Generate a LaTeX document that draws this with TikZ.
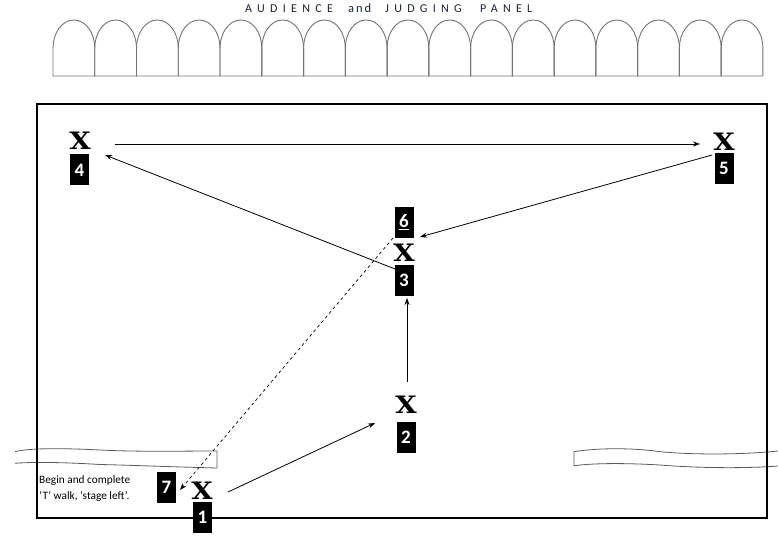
\documentclass[tikz,border=0pt]{standalone}
\usepackage{fontspec}
\setmainfont{Carlito}
\newfontfamily\xfont{DejaVu Serif}
\usetikzlibrary{arrows.meta}
\definecolor{titlec}{RGB}{25,32,65}
\definecolor{archc}{RGB}{115,115,115}
\definecolor{stripc}{RGB}{90,90,90}
\begin{document}
\begin{tikzpicture}[x=1pt,y=-1pt,
  xmark/.style={font=\xfont\bfseries\fontsize{24}{24}\selectfont, inner sep=0pt, xscale=1.15},
  numbox/.style={fill=black, text=white, font=\bfseries\fontsize{19}{19}\selectfont,
    minimum width=19pt, minimum height=31pt, inner sep=0pt},
  arr/.style={-{Stealth[length=7pt,width=5pt]}, line width=0.8pt},
  dasharr/.style={arr, dashed, line width=0.7pt},
  titleword/.style={anchor=west, inner sep=0pt, text=titlec,
    font=\fontsize{12}{12}\selectfont\addfontfeature{LetterSpace=44}},
  arch/.style={draw=archc, line width=0.9pt},
  strip/.style={draw=stripc, line width=0.8pt}]
\useasboundingbox (0,0) rectangle (778,537);

% title
\node[titleword] (t1) at (245,9) {AUDIENCE};
\node[titleword, font=\fontsize{12.5}{12}\selectfont\addfontfeature{LetterSpace=15}] (t2) at (348,8.5) {and};
\node[titleword] (t3) at (385,9) {JUDGING};
\node[titleword] (t4) at (480,9) {PANEL};

% arches
\foreach \i in {0,...,16}{
  \pgfmathsetmacro\xa{53+41.76*\i}
  \pgfmathsetmacro\xb{53+41.76*(\i+1)}
  \pgfmathsetmacro\xm{53+41.76*(\i+0.5)}
  \draw[arch] (\xa,76) -- (\xa,48) .. controls (\xa,33) and (\xm-12,20) .. (\xm,20)
     .. controls (\xm+12,20) and (\xb,33) .. (\xb,48) -- (\xb,76) -- cycle;
}

% strips
\draw[strip] (15,451.7) .. controls (30,448) and (60,448) .. (100,450)
   .. controls (140,452) and (180,451) .. (217,451) -- (217,468)
   .. controls (160,466.5) and (125,465) .. (100,464.5)
   .. controls (60,462) and (30,462) .. (15,463.3);
\draw[strip] (778,451) .. controls (750,454) and (700,455.5) .. (660,451.7)
   .. controls (635,448) and (600,447.5) .. (574,451.7) -- (574,465.7)
   .. controls (595,463) and (625,463) .. (660,465)
   .. controls (690,467.5) and (740,469) .. (778,466);

% stage
\draw[line width=2pt] (37,104) rectangle (767,518);

% marks
\node[xmark] (x4) at (80,141) {X};
\node[numbox] (b4) at (79.5,170) {4};
\node[xmark] (x5) at (724,142) {X};
\node[numbox] (b5) at (724,168.5) {5};
\node[numbox] (b6) at (404,222.5) {\underline{6}};
\node[xmark] (x3) at (404,253) {X};
\node[numbox] (b3) at (404,280) {3};
\node[xmark] (x2) at (406,405) {X};
\node[numbox] (b2) at (406,437.5) {2};
\node[xmark] (x1) at (202,491) {X};
\node[numbox] (b1) at (202.5,517.5) {1};
\node[numbox] (b7) at (166.5,487) {7};

% note
\node[anchor=west, align=left, inner sep=0pt, font=\fontsize{11.3}{16}\selectfont]
  (note) at (39,489) {Begin and complete\\‘T’ walk, ‘stage left’.};

% walk arrows
\draw[arr] ([shift={(26,1)}]x1.center) -- ([shift={(-31,18)}]x2.center);
\draw[arr] ([shift={(1,-23)}]x2.center) -- ([shift={(3,18)}]b3.center);
\draw[arr] ([shift={(-9,-11)}]b3.center) -- ([shift={(25,14)}]x4.center);
\draw[arr] ([shift={(35,3)}]x4.center) -- ([shift={(-24,2)}]x5.center);
\draw[arr] ([shift={(-12,13)}]x5.center) -- ([shift={(16,14.5)}]b6.center);
\draw[dasharr] ([shift={(-11,15.5)}]b6.center) -- ([shift={(13.5,3)}]b7.center);
\end{tikzpicture}
\end{document}
